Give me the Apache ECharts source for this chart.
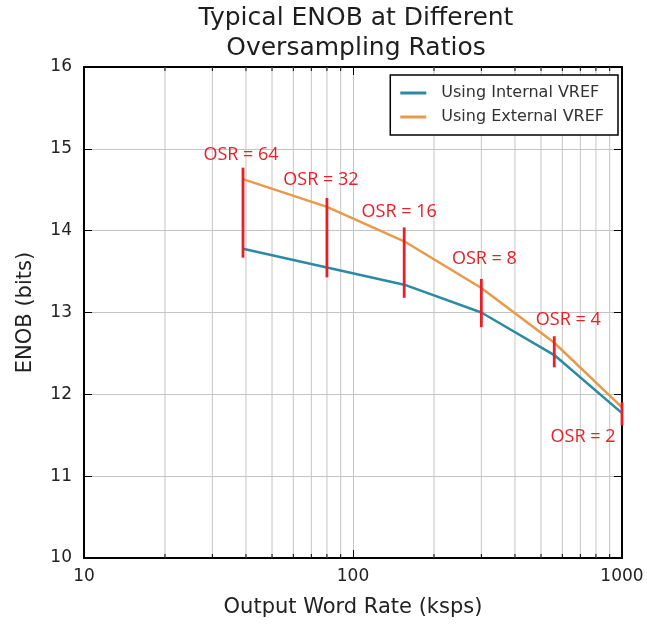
<!DOCTYPE html>
<html>
<head>
<meta charset="utf-8">
<script src="https://cdn.jsdelivr.net/npm/echarts@6/dist/echarts.min.js"></script>
<style>
html,body{margin:0;padding:0;background:#fff;}
#chart{width:647px;height:625px;}
</style>
</head>
<body>
<div id="chart"></div>
<script>
// ---- data ----
const outputRate = [39, 80, 155, 300, 560, 1000];           // ksps
const enobInternal = [13.78, 13.55, 13.34, 13.00, 12.48, 11.77];
const enobExternal = [14.63, 14.29, 13.87, 13.30, 12.63, 11.84];
const osrBarHigh = [14.77, 14.40, 14.04, 13.41, 12.71, 11.90];
const osrBarLow = [13.67, 13.43, 13.18, 12.82, 12.33, 11.62];
const osrLabels = ['OSR = 64', 'OSR = 32', 'OSR = 16', 'OSR = 8', 'OSR = 4', 'OSR = 2'];
const minorTicks = [20, 30, 40, 50, 60, 70, 80, 90, 200, 300, 400, 500, 600, 700, 800, 900];
const seriesNames = ['Using Internal VREF', 'Using External VREF'];

// ---- styling ----
const labelOffsets = [[-2, -13], [-6, -18], [-5, -16], [3, -20], [14, -16], [-39, 34]];
const FONT = 'DejaVu Sans';
const RED = '#e62028';

const chart = echarts.init(document.getElementById('chart'), null, {renderer: 'canvas'});

const axisLineStyle = {show: true, lineStyle: {color: '#000', width: 2}};
const gridLine = {show: true, lineStyle: {color: '#c4c4c4', width: 1}};

const option = {
  animation: false,
  backgroundColor: '#fff',
  title: {
    text: 'Typical ENOB at Different\nOversampling Ratios',
    left: 351, top: -2, textAlign: 'center',
    textStyle: {fontFamily: FONT, fontSize: 25, fontWeight: 'normal', color: '#1e1e1e', lineHeight: 30}
  },
  grid: {left: 84, right: 25, top: 67, bottom: 67, show: true, borderColor: '#000', borderWidth: 2},
  legend: {
    data: seriesNames,
    right: 29, top: 75,
    orient: 'vertical',
    backgroundColor: '#fff',
    borderColor: '#000', borderWidth: 1.5, borderRadius: 0,
    padding: [10, 14, 10, 10],
    icon: 'rect',
    itemWidth: 26, itemHeight: 3, itemGap: 8,
    textStyle: {fontFamily: FONT, fontSize: 16, color: '#333', padding: [0, 0, 0, 10]}
  },
  xAxis: [{
    type: 'log', logBase: 10, min: 10, max: 1000, position: 'bottom',
    axisLine: axisLineStyle,
    axisTick: {show: true, inside: true, length: 8, lineStyle: {color: '#000', width: 1}},
    axisLabel: {fontFamily: FONT, fontSize: 17, color: '#222', margin: 10, formatter: v => String(Math.round(v))},
    splitLine: gridLine,
    name: 'Output Word Rate (ksps)', nameLocation: 'middle', nameGap: 39,
    nameTextStyle: {fontFamily: FONT, fontSize: 21, color: '#222'}
  }, {
    type: 'log', logBase: 10, min: 10, max: 1000, position: 'top',
    axisLine: axisLineStyle,
    axisTick: {show: true, inside: true, length: 8, lineStyle: {color: '#000', width: 1}},
    axisLabel: {show: false}, splitLine: {show: false}
  }],
  yAxis: [{
    type: 'value', min: 10, max: 16, interval: 1, position: 'left',
    axisLine: axisLineStyle,
    axisTick: {show: true, inside: true, length: 8, lineStyle: {color: '#000', width: 1}},
    axisLabel: {fontFamily: FONT, fontSize: 17, color: '#222', margin: 12},
    splitLine: gridLine,
    name: 'ENOB (bits)', nameLocation: 'middle', nameGap: 48, nameRotate: 90,
    nameTextStyle: {fontFamily: FONT, fontSize: 21, color: '#222'}
  }, {
    type: 'value', min: 10, max: 16, interval: 1, position: 'right',
    axisLine: axisLineStyle,
    axisTick: {show: true, inside: true, length: 8, lineStyle: {color: '#000', width: 1}},
    axisLabel: {show: false}, splitLine: {show: false}
  }],
  series: [
    {
      type: 'custom', name: 'minor', silent: true, z: 1,
      xAxisIndex: 0, yAxisIndex: 0,
      data: minorTicks.map(v => [v, 10]),
      encode: {x: 0, y: 1},
      renderItem: function (params, api) {
        const v = api.value(0);
        const t = api.coord([v, 16]);
        const b = api.coord([v, 10]);
        return {
          type: 'group',
          children: [
            {type: 'line', shape: {x1: t[0], y1: t[1], x2: b[0], y2: b[1]}, style: {stroke: '#c4c4c4', lineWidth: 1}},
            {type: 'line', shape: {x1: t[0], y1: t[1], x2: t[0], y2: t[1] + 4}, style: {stroke: '#000', lineWidth: 1}},
            {type: 'line', shape: {x1: b[0], y1: b[1], x2: b[0], y2: b[1] - 4}, style: {stroke: '#000', lineWidth: 1}}
          ]
        };
      }
    },
    {
      type: 'line', name: seriesNames[0], xAxisIndex: 0, yAxisIndex: 0,
      data: outputRate.map((x, i) => [x, enobInternal[i]]),
      symbol: 'none', color: '#2b8aa6',
      lineStyle: {width: 2.5, color: '#2b8aa6'}, z: 3
    },
    {
      type: 'line', name: seriesNames[1], xAxisIndex: 0, yAxisIndex: 0,
      data: outputRate.map((x, i) => [x, enobExternal[i]]),
      symbol: 'none', color: '#e8994a',
      lineStyle: {width: 2.5, color: '#e8994a'}, z: 3
    },
    {
      type: 'custom', name: 'osr', silent: true, z: 5,
      xAxisIndex: 0, yAxisIndex: 0, clip: false,
      data: outputRate.map((x, i) => [x, osrBarHigh[i], osrBarLow[i], i]),
      encode: {x: 0, y: [1, 2]},
      renderItem: function (params, api) {
        const x = api.value(0);
        const i = api.value(3);
        const p1 = api.coord([x, api.value(1)]);
        const p2 = api.coord([x, api.value(2)]);
        const off = labelOffsets[i];
        return {
          type: 'group',
          children: [
            {type: 'line', shape: {x1: p1[0], y1: p1[1], x2: p2[0], y2: p2[1]}, style: {stroke: RED, lineWidth: 2.8}},
            {type: 'text', style: {
              text: osrLabels[i], x: p1[0] + off[0], y: p1[1] + off[1],
              fill: RED, fontFamily: 'Open Sans', fontSize: 18,
              align: 'center', verticalAlign: 'middle'
            }}
          ]
        };
      }
    }
  ]
};
chart.setOption(option);
</script>
</body>
</html>
